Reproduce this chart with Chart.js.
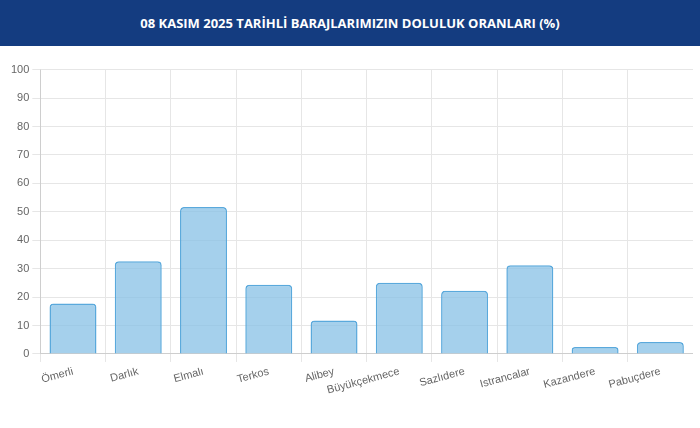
<!DOCTYPE html>
<html><head><meta charset="utf-8">
<script src="https://cdn.jsdelivr.net/npm/chart.js@4"></script>
<style>
body{margin:0;width:700px;height:428px;background:#fff;font-family:Roboto,"Open Sans",sans-serif;overflow:hidden}
#hdr{height:46px;background:#143c80;color:#fff;font-weight:bold;font-size:13px;display:flex;align-items:center;justify-content:center;font-family:"Open Sans",sans-serif}
#wrap{position:absolute;left:8px;top:60px;width:685px;height:340px}
</style></head><body>
<div id="hdr">08 KASIM 2025 TARİHLİ BARAJLARIMIZIN DOLULUK ORANLARI (%)</div>
<div id="wrap"><canvas id="c"></canvas></div>
<script>
const categories=["Ömerli","Darlık","Elmalı","Terkos","Alibey","Büyükçekmece","Sazlıdere","Istrancalar","Kazandere","Pabuçdere"];
const values=[17.7,32.6,51.7,24.3,11.8,25.0,22.2,31.2,2.4,4.2];
new Chart(document.getElementById('c'),{type:'bar',
data:{labels:categories,datasets:[{data:values,backgroundColor:'rgba(135,192,230,0.75)',borderColor:'#5aa9dc',borderWidth:1.5,borderRadius:4,categoryPercentage:0.9,barPercentage:0.8}]},
options:{responsive:true,maintainAspectRatio:false,animation:false,
plugins:{legend:{display:false},tooltip:{enabled:false}},
scales:{y:{min:0,max:100,ticks:{stepSize:10,color:'#666',font:{size:11}},grid:{color:'#e6e6e6'}},
x:{ticks:{color:'#666',font:{size:11},maxRotation:15,minRotation:15},grid:{color:'#e6e6e6'}}}}});
</script></body></html>
